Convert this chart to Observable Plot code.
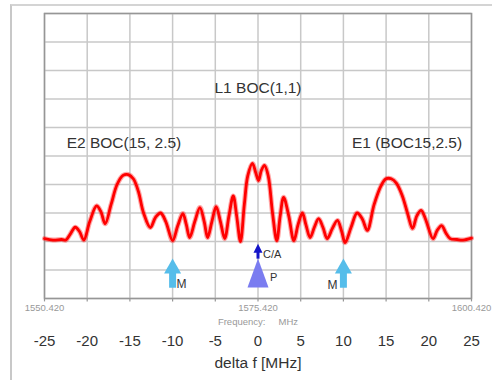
<!DOCTYPE html>
<html><head><meta charset="utf-8">
<script src="https://cdn.jsdelivr.net/npm/d3@7"></script>
<script src="https://cdn.jsdelivr.net/npm/@observablehq/plot@0.6"></script>
<style>
body{margin:0;background:#fff;}
#wrap{position:relative;width:501px;height:380px;overflow:hidden;}
#border{position:absolute;left:10px;top:4px;width:480px;height:380px;border-left:2px solid #c8c8c8;border-top:2px solid #d4d4d4;pointer-events:none;}
#chart{position:absolute;left:0;top:0;}
</style></head><body><div id="wrap"><div id="border"></div><div id="chart"></div></div>
<script>
// spectrum trace: delta f [MHz] and level (grid divisions)
const deltaF = [-25,-24,-23,-22.5,-22,-21.4,-20.9,-20.4,-19.7,-18.9,-18.4,-17.9,-17.2,-16.5,-15.8,-15.2,-14.6,-14.0,-13.4,-12.6,-12.0,-11.4,-10.8,-10.0,-9.4,-8.8,-8.4,-8.0,-7.4,-6.8,-6.3,-5.9,-5.4,-4.9,-4.4,-3.9,-3.4,-2.9,-2.5,-2.05,-1.6,-1.2,-0.65,-0.25,0.06,0.4,0.76,1.2,1.7,2.2,2.6,3.0,3.6,4.2,4.7,5.2,5.6,6.1,6.6,7.1,7.6,8.1,8.7,9.3,9.8,10.2,10.9,11.6,12.2,12.8,13.6,14.4,15.0,15.6,16.2,16.9,17.5,18.1,18.6,19.1,19.6,20.5,21.0,21.5,22.0,22.5,23.3,24.0,25];
const level  = [2.1,2.05,2.07,2.05,2.25,2.5,2.35,2.05,2.7,3.25,3.05,2.62,3.3,4.0,4.32,4.35,4.2,3.75,3.0,2.49,2.85,3.0,2.7,2.03,2.55,2.98,2.6,2.14,2.7,3.19,2.7,2.14,2.7,3.22,2.7,2.1,2.9,3.6,2.9,2.0,3.3,4.3,4.74,4.4,4.14,4.5,4.67,4.3,3.0,2.03,2.9,3.55,2.9,2.03,2.6,3.0,2.6,2.14,2.5,2.8,2.5,2.1,2.45,2.74,2.35,1.96,2.5,3.0,2.8,2.39,3.3,3.95,4.2,4.2,4.05,3.6,3.0,2.46,2.9,3.09,2.8,2.1,2.4,2.56,2.3,2.1,2.07,2.05,2.12];

const gridX = [-25,-20,-15,-10,-5,0,5,10,15,20,25];
const gridY = [0,1,2,3,4,5,6,7,8,9,10];
const tickLabels = ["-25","-20","-15","-10","-5","0","5","10","15","20","25"];
const freqTickF = [-25,0,25];
const freqLabels = ["1550.420","1575.420","1600.420"];

const annoText = ["L1 BOC(1,1)","E2 BOC(15, 2.5)","E1 (BOC15,2.5)"];
const annoF = [0,-15.7,17.45];
const annoV = [7.37,5.44,5.44];

// signal markers
const mArrowF = [-10,10];
const mTipV = 1.4, mStemTop = 0.9, mStemBottom = 0.36;
const caF = [0];
const caTipV = 1.92, caStemTop = 1.65, caStemBottom = 1.38;
const pF = [0];
const pTipV = 1.4;

const trace = deltaF.map((f,i)=>({f, v: level[i]}));

function triangle(w,h){
  return {draw(ctx){ ctx.moveTo(0,0); ctx.lineTo(w/2,h); ctx.lineTo(-w/2,h); ctx.closePath(); }};
}

const chart = Plot.plot({
  width: 501, height: 380,
  marginLeft: 44, marginRight: 30, marginTop: 13, marginBottom: 82,
  x: {domain:[-25,25], axis:null},
  y: {domain:[0,10], axis:null},
  style: {background:"transparent", fontFamily:"'Liberation Sans', Arial, sans-serif"},
  marks: [
    Plot.ruleX(gridX, {stroke:"#c8c8c8", strokeWidth:1.5}),
    Plot.ruleY(gridY, {stroke:"#c8c8c8", strokeWidth:1.5}),
    Plot.frame({stroke:"#969696", strokeWidth:1.5}),
    Plot.ruleX(gridX, {y1:0, y2:-0.12, stroke:"#969696", strokeWidth:1.2}),
    Plot.line(trace, {x:"f", y:"v", stroke:"#ff2020", strokeWidth:5, strokeOpacity:0.4, curve:"catmull-rom"}),
    Plot.line(trace, {x:"f", y:"v", stroke:"#ff0000", strokeWidth:2.8, curve:"catmull-rom"}),
    // M arrows
    Plot.ruleX(mArrowF, {y1:mStemBottom, y2:mStemTop, stroke:"#55bdea", strokeWidth:7}),
    Plot.dot(mArrowF, {x:d=>d, y:()=>mTipV, symbol:triangle(17,15), fill:"#55bdea", stroke:"none"}),
    // P
    Plot.dot(pF, {x:d=>d, y:()=>pTipV, symbol:triangle(21,29), fill:"#7a7cf0", stroke:"none"}),
    // C/A
    Plot.ruleX(caF, {y1:caStemBottom, y2:caStemTop, stroke:"#1414c8", strokeWidth:3}),
    Plot.dot(caF, {x:d=>d, y:()=>caTipV, symbol:triangle(9,9), fill:"#1414c8", stroke:"none"}),
    // marker labels
    Plot.text(["M"], {x:[-10], y:[0.52], dx:9, text:d=>d, fontSize:12, fill:"#333"}),
    Plot.text(["M"], {x:[10], y:[0.48], dx:-11, text:d=>d, fontSize:12, fill:"#333"}),
    Plot.text(["C/A"], {x:[0], y:[1.54], dx:5, textAnchor:"start", text:d=>d, fontSize:11, fill:"#333"}),
    Plot.text(["P"], {x:[0], y:[0.74], dx:12, textAnchor:"start", text:d=>d, fontSize:11, fill:"#333"}),
    // annotations
    Plot.text(annoText, {x:(d,i)=>annoF[i], y:(d,i)=>annoV[i], text:d=>d, fontSize:15.5, fill:"#333"}),
    // analyzer frequency labels
    Plot.text(freqLabels, {x:(d,i)=>freqTickF[i], frameAnchor:"bottom", dy:12, text:d=>d, fontSize:9.5, fill:"#999"}),
    Plot.text(["Frequency:     MHz"], {x:[0], frameAnchor:"bottom", dy:26, text:d=>d, fontSize:9.5, fill:"#999"}),
    // delta f axis
    Plot.text(tickLabels, {x:(d,i)=>gridX[i], frameAnchor:"bottom", dy:47, text:d=>d, fontSize:15, fill:"#333"}),
    Plot.text(["delta f [MHz]"], {x:[0], frameAnchor:"bottom", dy:69, text:d=>d, fontSize:15.5, fill:"#333"})
  ]
});
document.getElementById("chart").appendChild(chart);
</script>
</body></html>
